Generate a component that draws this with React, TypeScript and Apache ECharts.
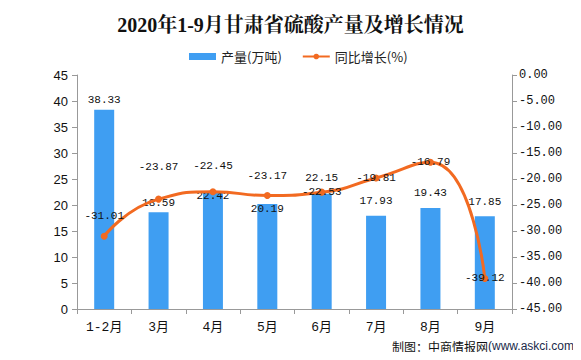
import React, { useEffect, useRef } from "react";
import * as echarts from "echarts";

const categories = ["1-2月", "3月", "4月", "5月", "6月", "7月", "8月", "9月"];
const output = [38.33, 18.59, 22.42, 20.19, 22.15, 17.93, 19.43, 17.85];
const growth = [-31.01, -23.87, -22.45, -23.17, -22.53, -19.81, -16.79, -39.12];
// label vertical offsets (px) (data-label placement)
const barLabelOffsets = [-2, -2, 11, 12, -8, -7, -7, -7];
const lineLabelOffsets = [-5, -17, -11, -4, 0, 0, 0, 0];
const lineLabelCentered = [false, false, false, false, true, true, true, true];

const MONO = "'Liberation Mono', 'Noto Sans CJK SC', monospace";

export default function App() {
  const ref = useRef<HTMLDivElement>(null);
  useEffect(() => {
    const chart = echarts.init(ref.current!, null, { renderer: "svg" });
    const labelBase = {
      show: true,
      fontFamily: MONO,
      fontSize: 11,
      color: "#111",
      formatter: (p: any) => p.value.toFixed(2),
    };
    chart.setOption({
      animation: false,
      backgroundColor: "#fff",
      title: {
        text: "2020年1-9月甘肃省硫酸产量及增长情况",
        left: "center",
        top: 10,
        textStyle: {
          fontFamily: "'Liberation Serif', 'Noto Serif CJK SC', 'Noto Sans CJK SC', serif",
          fontWeight: "bold",
          fontSize: 20,
          color: "#111",
        },
      },
      legend: {
        top: 45,
        left: 184,
        itemGap: 20,
        itemWidth: 27,
        itemHeight: 7,
        textStyle: { fontFamily: "'Noto Sans CJK SC', sans-serif", fontSize: 13, color: "#222" },
        data: [
          { name: "产量(万吨)", icon: "rect" },
          { name: "同比增长(%)" },
        ],
      },
      grid: { left: 77, right: 69, top: 75, bottom: 51 },
      xAxis: {
        type: "category",
        data: categories,
        axisLine: { lineStyle: { color: "#999" } },
        axisTick: { show: true, length: 5, lineStyle: { color: "#999" } },
        axisLabel: { fontFamily: MONO, fontSize: 13, color: "#111", margin: 12 },
      },
      yAxis: [
        {
          type: "value",
          min: 0,
          max: 45,
          interval: 5,
          axisLine: { show: true, lineStyle: { color: "#999" } },
          axisTick: { show: true, length: 5, lineStyle: { color: "#999" } },
          splitLine: { show: false },
          axisLabel: { fontFamily: "'Liberation Sans', Arial, sans-serif", fontSize: 13, color: "#111", margin: 9 },
        },
        {
          type: "value",
          min: -45,
          max: 0,
          interval: 5,
          position: "right",
          axisLine: { show: true, lineStyle: { color: "#999" } },
          axisTick: { show: true, length: 5, lineStyle: { color: "#999" } },
          splitLine: { show: false },
          axisLabel: {
            fontFamily: MONO,
            fontSize: 12,
            color: "#111",
            margin: 7,
            formatter: (v: number) => v.toFixed(2),
          },
        },
      ],
      series: [
        {
          name: "产量(万吨)",
          type: "bar",
          data: output.map((v, i) => ({
            value: v,
            label: { offset: [0, barLabelOffsets[i]] },
          })),
          barWidth: 20,
          itemStyle: { color: "#3F9EF2" },
          label: { ...labelBase, position: "top", distance: 2 },
        },
        {
          name: "同比增长(%)",
          type: "line",
          yAxisIndex: 1,
          data: growth.map((v, i) => ({
            value: v,
            label: lineLabelCentered[i]
              ? { position: "inside" }
              : { position: "top", offset: [0, lineLabelOffsets[i]] },
          })),
          smooth: 0.55,
          symbol: "circle",
          symbolSize: 7,
          lineStyle: { width: 3, color: "#F26A21" },
          itemStyle: { color: "#F26A21" },
          label: { ...labelBase, position: "top", distance: 6 },
          z: 3,
        },
      ],
      graphic: [
        {
          type: "rect",
          left: 0,
          top: 0,
          shape: { width: 580, height: 359 },
          style: { fill: "none", stroke: "#999", lineWidth: 1 },
          silent: true,
        },
        {
          type: "text",
          left: 392,
          top: 340,
          style: {
            text: "{a|制图：中商情报网}{b|(www.askci.com)}",
            rich: {
              a: { fontFamily: "'Noto Sans CJK SC', sans-serif", fontSize: 12, fill: "#111" },
              b: { fontFamily: "'Liberation Sans', sans-serif", fontSize: 12, fill: "#1a2a4a" },
            },
          },
        },
      ],
    });
    return () => chart.dispose();
  }, []);
  return <div ref={ref} style={{ width: 581, height: 360, margin: -8 }} />;
}
